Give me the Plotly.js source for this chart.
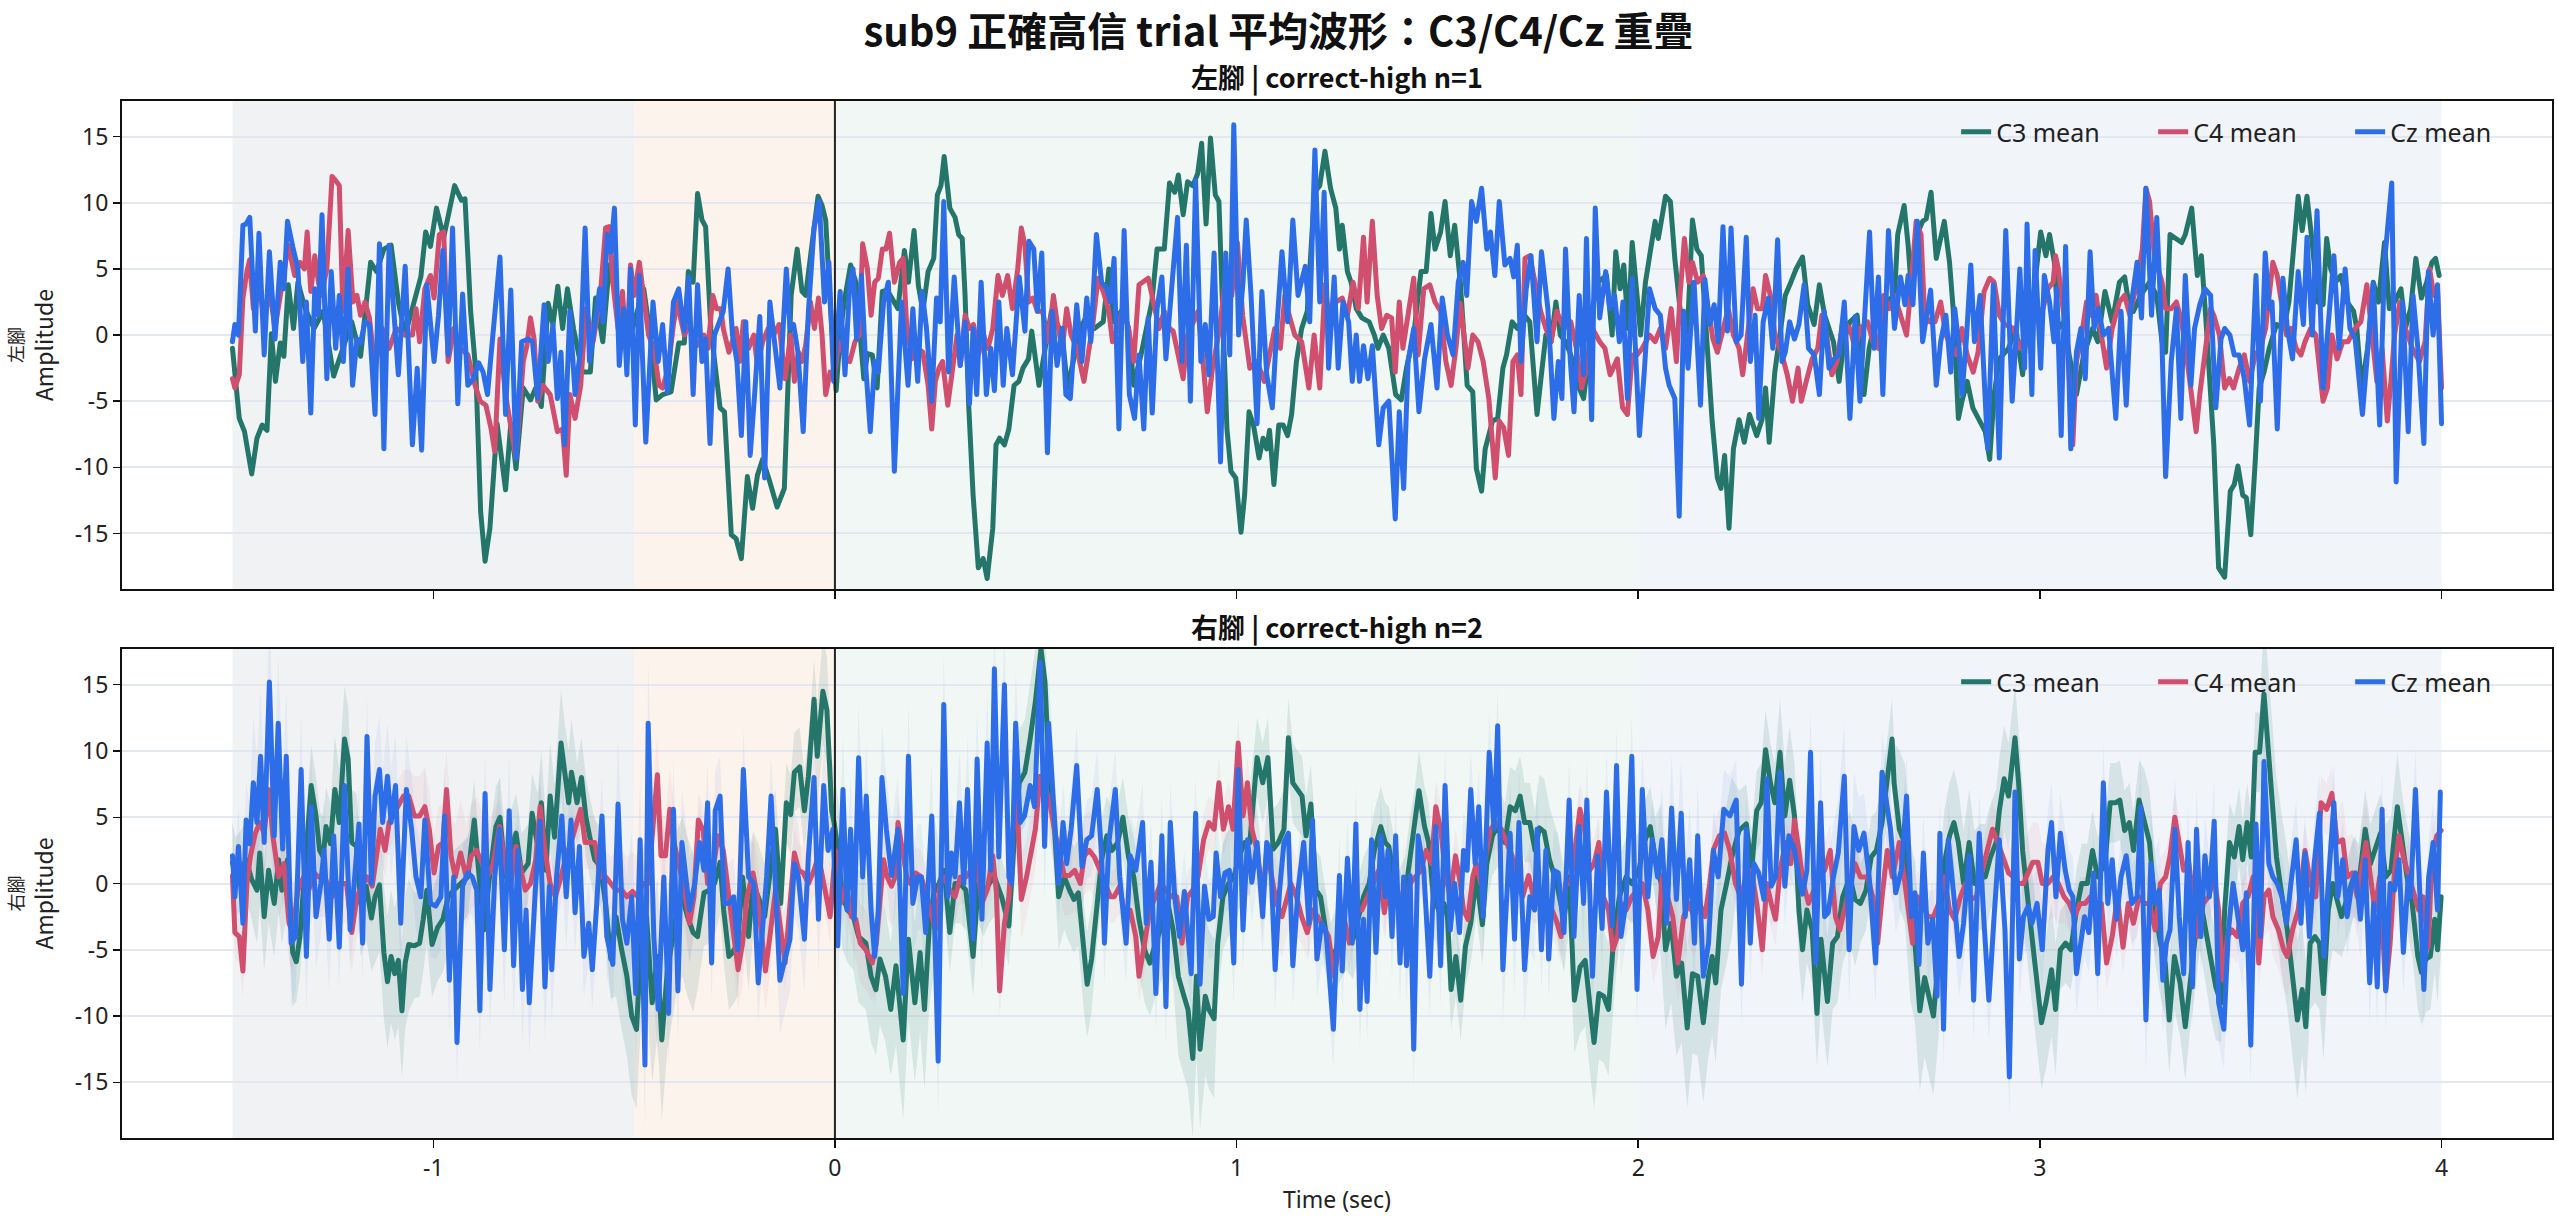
<!DOCTYPE html>
<html>
<head>
<meta charset="utf-8">
<script src="https://cdn.plot.ly/plotly-3.0.1.min.js"></script>
<style>
  html, body { margin: 0; padding: 0; background: #fff; overflow: hidden; }
  #chart { width: 2557px; height: 1221px; }
  .scatterlayer .js-line { stroke-linejoin: round; stroke-linecap: round; }
</style>
</head>
<body>
<div id="chart"></div>
<script>
// [time (s), amplitude] at the turning points of each mean waveform
var topC3 = [[-1.5,-1.0],[-1.483,-6.3],[-1.47,-7.3],[-1.452,-10.5],[-1.439,-7.8],[-1.426,-6.8],[-1.414,-7.2],[-1.403,0.1],[-1.393,-3.5],[-1.381,-0.6],[-1.372,-1.6],[-1.361,3.8],[-1.348,0.5],[-1.337,4.0],[-1.319,2.0],[-1.297,0.5],[-1.274,1.8],[-1.248,-3.1],[-1.225,-1.0],[-1.203,1.0],[-1.181,-1.6],[-1.156,5.5],[-1.141,4.8],[-1.123,6.5],[-1.105,6.8],[-1.087,2.5],[-1.07,0.0],[-1.052,2.0],[-1.031,4.4],[-1.019,7.8],[-1.007,6.7],[-0.992,9.6],[-0.974,7.4],[-0.947,11.3],[-0.93,10.2],[-0.921,10.3],[-0.907,1.8],[-0.894,-2.8],[-0.882,-13.4],[-0.871,-17.1],[-0.859,-14.6],[-0.841,-6.7],[-0.82,-11.7],[-0.807,-6.7],[-0.794,-10.1],[-0.776,-4.0],[-0.758,-4.9],[-0.745,-4.0],[-0.731,-5.4],[-0.714,2.4],[-0.702,0.8],[-0.69,3.7],[-0.678,0.5],[-0.666,3.5],[-0.651,0.5],[-0.629,-2.8],[-0.609,-2.8],[-0.596,2.8],[-0.578,-0.5],[-0.562,5.3],[-0.549,3.5],[-0.531,1.8],[-0.504,0.5],[-0.476,3.5],[-0.46,0.0],[-0.445,-4.9],[-0.429,-4.5],[-0.408,-4.3],[-0.389,-0.6],[-0.375,-0.6],[-0.365,4.8],[-0.353,4.0],[-0.342,10.7],[-0.331,8.7],[-0.322,8.2],[-0.309,0.5],[-0.286,-5.5],[-0.275,-5.8],[-0.258,-15.1],[-0.246,-15.4],[-0.233,-16.9],[-0.218,-10.7],[-0.205,-13.1],[-0.193,-10.6],[-0.18,-9.4],[-0.165,-10.8],[-0.144,-13.0],
[-0.126,-11.6],[-0.117,-4.5],[-0.109,3.0],[-0.094,6.5],[-0.082,3.3],[-0.073,3.0],[-0.059,6.3],[-0.042,10.5],[-0.032,9.8],[-0.023,8.7],[-0.012,2.5],[0.003,-4.2],[0.013,0.0],[0.023,2.5],[0.039,5.3],[0.052,4.0],[0.072,-3.3],[0.081,-1.4],[0.093,-1.5],[0.105,-4.0],[0.118,3.3],[0.13,3.4],[0.157,2.0],[0.173,6.4],[0.183,4.0],[0.197,7.9],[0.208,3.7],[0.219,1.8],[0.232,4.8],[0.246,5.8],[0.255,10.6],[0.264,11.3],[0.272,13.5],[0.286,9.6],[0.299,8.9],[0.308,7.6],[0.317,7.3],[0.324,3.0],[0.333,-5.3],[0.344,-12.1],[0.357,-17.6],[0.369,-16.9],[0.379,-18.4],[0.393,-14.6],[0.401,-8.3],[0.41,-7.8],[0.422,-8.3],[0.433,-7.1],[0.446,-3.8],[0.458,-3.5],[0.468,-2.5],[0.482,-1.8],[0.49,0.3],[0.499,-1.5],[0.508,-3.8],[0.539,1.8],[0.566,0.0],[0.579,-4.0],[0.611,0.5],[0.628,1.5],[0.646,0.5],[0.668,1.0],[0.682,5.0],[0.695,1.0],[0.717,2.0],[0.731,0.5],[0.744,-3.8],[0.762,-1.5],[0.789,2.5],[0.802,6.5],[0.82,6.5],[0.833,11.5],[0.846,10.8],[0.855,12.1],[0.867,9.1],[0.878,11.6],[0.891,11.3],[0.903,12.2],[0.913,14.5],[0.924,8.4],[0.935,14.9],[0.947,10.6],[0.956,10.1],[0.967,0.5],[0.976,-7.1],[0.986,-10.3],[0.998,-10.8],[1.011,-14.9],[1.02,-12.1],[1.031,-5.8],[1.042,-6.8],[1.056,-9.3],[1.066,-7.8],[1.075,-8.6],[1.082,-7.2],[1.093,-11.3],[1.105,-6.8],[1.116,-6.8],[1.127,-7.6],[1.137,-6.0],[1.149,-2.0],[1.162,0.5],[1.176,1.8],[1.194,10.8],[1.207,11.3],[1.22,13.9],[1.234,11.1],[1.247,9.6],[1.256,6.5],
[1.263,8.3],[1.276,4.8],[1.285,4.0],[1.298,2.0],[1.312,1.3],[1.33,1.0],[1.343,0.0],[1.352,-1.0],[1.365,0.0],[1.379,-1.0],[1.396,-4.5],[1.41,-4.9],[1.423,-2.5],[1.441,0.0],[1.459,4.8],[1.472,4.8],[1.484,9.2],[1.494,6.5],[1.508,7.8],[1.519,10.1],[1.532,6.0],[1.543,8.3],[1.557,4.0],[1.574,-3.8],[1.588,-4.3],[1.597,-10.1],[1.61,-11.8],[1.619,-8.6],[1.637,-6.5],[1.65,-6.3],[1.663,-2.5],[1.672,-1.5],[1.686,1.0],[1.699,0.5],[1.717,1.5],[1.73,1.0],[1.739,-2.5],[1.748,-6.0],[1.757,-3.5],[1.77,0.0],[1.783,-0.5],[1.795,2.5],[1.806,0.0],[1.819,-0.5],[1.832,-1.5],[1.85,-3.8],[1.864,-4.8],[1.873,-2.5],[1.886,2.0],[1.899,4.0],[1.921,4.5],[1.935,0.0],[1.944,6.3],[1.955,3.5],[1.964,5.3],[1.975,0.5],[1.985,7.0],[1.997,2.5],[2.006,0.0],[2.018,4.0],[2.028,5.8],[2.042,8.6],[2.05,7.3],[2.068,10.5],[2.08,10.1],[2.091,5.8],[2.104,2.0],[2.122,0.0],[2.135,8.7],[2.146,6.5],[2.157,6.0],[2.171,-1.0],[2.184,-6.5],[2.197,-10.8],[2.206,-11.6],[2.215,-9.1],[2.226,-14.6],[2.237,-8.6],[2.251,-6.4],[2.264,-8.1],[2.277,-6.0],[2.295,-7.6],[2.308,-6.4],[2.317,-4.0],[2.326,-8.1],[2.34,-2.8],[2.353,0.0],[2.366,3.0],[2.38,4.0],[2.393,5.0],[2.409,5.9],[2.422,2.3],[2.438,0.8],[2.451,3.8],[2.464,1.5],[2.486,-0.5],[2.5,-3.5],[2.513,-0.3],[2.527,1.0],[2.545,1.5],[2.562,-4.5],[2.575,-1.0],[2.593,1.5],[2.616,2.5],[2.638,3.0],
[2.646,7.6],[2.662,9.8],[2.672,6.8],[2.681,3.0],[2.69,7.3],[2.708,8.6],[2.717,8.8],[2.729,10.8],[2.742,5.8],[2.762,8.6],[2.775,5.5],[2.784,2.0],[2.797,-6.3],[2.806,-5.0],[2.819,-3.5],[2.833,-5.5],[2.851,-6.5],[2.864,-7.3],[2.875,-9.4],[2.886,-4.5],[2.899,-1.8],[2.922,-1.0],[2.94,0.5],[2.957,-3.0],[2.966,0.0],[2.984,3.0],[3.002,7.8],[3.015,6.0],[3.024,7.6],[3.036,5.5],[3.046,0.5],[3.06,1.0],[3.073,-1.5],[3.091,-4.5],[3.109,-1.5],[3.131,0.5],[3.144,-0.5],[3.162,3.3],[3.18,1.0],[3.198,4.0],[3.211,4.4],[3.223,2.0],[3.233,1.8],[3.251,3.0],[3.273,4.0],[3.291,3.0],[3.304,-0.5],[3.313,-1.3],[3.324,7.6],[3.34,7.3],[3.353,7.0],[3.362,7.6],[3.378,9.6],[3.392,4.5],[3.402,6.0],[3.413,1.3],[3.425,-4.5],[3.433,-8.3],[3.445,-17.6],[3.46,-18.3],[3.474,-11.8],[3.484,-11.3],[3.493,-9.9],[3.505,-12.1],[3.514,-12.3],[3.525,-15.1],[3.536,-9.6],[3.546,-4.0],[3.558,-2.8],[3.571,-1.0],[3.589,0.8],[3.607,0.5],[3.62,2.5],[3.632,7.0],[3.643,10.5],[3.653,7.9],[3.665,10.5],[3.678,7.0],[3.692,2.5],[3.705,2.3],[3.714,7.3],[3.724,5.0],[3.736,4.0],[3.749,4.5],[3.765,2.5],[3.781,1.8],[3.789,0.5],[3.801,-4.0],[3.816,-1.0],[3.83,4.0],[3.843,2.5],[3.858,7.0],[3.87,2.0],[3.883,2.5],[3.899,3.5],[3.91,0.5],[3.923,2.0],[3.936,5.8],[3.95,2.8],[3.963,4.0],[3.976,5.5],[3.985,5.8],[3.994,4.5]];

var topC4 = [[-1.5,-3.3],[-1.494,-4.0],[-1.483,-3.0],[-1.474,2.8],[-1.464,4.8],[-1.457,5.7],[-1.448,2.0],[-1.434,4.0],[-1.421,1.0],[-1.408,3.5],[-1.394,0.5],[-1.381,3.0],[-1.361,6.8],[-1.345,4.5],[-1.332,5.5],[-1.321,5.0],[-1.314,7.8],[-1.305,3.3],[-1.295,6.0],[-1.286,4.0],[-1.279,3.0],[-1.265,5.0],[-1.252,12.0],[-1.241,11.6],[-1.234,11.3],[-1.225,1.8],[-1.212,7.9],[-1.2,2.5],[-1.19,3.0],[-1.181,1.5],[-1.17,2.5],[-1.159,1.3],[-1.145,-2.5],[-1.127,0.5],[-1.11,-1.0],[-1.092,0.5],[-1.07,0.0],[-1.052,0.0],[-1.043,2.0],[-1.034,-0.5],[-1.021,3.5],[-1.007,4.5],[-0.998,2.8],[-0.985,7.6],[-0.974,7.8],[-0.963,-2.0],[-0.949,0.5],[-0.932,-1.0],[-0.914,-1.5],[-0.896,-3.8],[-0.883,-5.0],[-0.869,-5.3],[-0.856,-7.1],[-0.847,-8.8],[-0.834,-0.3],[-0.82,-4.5],[-0.807,-7.1],[-0.794,-9.3],[-0.776,-2.0],[-0.767,-0.8],[-0.758,1.3],[-0.749,-0.3],[-0.74,-5.0],[-0.727,-3.8],[-0.709,-4.5],[-0.691,-7.3],[-0.678,-7.1],[-0.669,-10.6],[-0.66,-4.5],[-0.647,-6.3],[-0.633,-3.8],[-0.62,2.0],[-0.602,-0.5],[-0.584,3.0],[-0.571,8.1],[-0.562,8.2],[-0.553,4.0],[-0.54,0.5],[-0.529,3.3],[-0.518,-2.0],[-0.509,5.3],[-0.5,3.0],[-0.487,5.5],[-0.478,3.5],[-0.464,0.0],[-0.451,-1.0],[-0.438,-3.8],[-0.429,-4.0],[-0.415,-2.5],[-0.402,0.8],[-0.393,2.5],[-0.375,0.0],[-0.362,0.8],[-0.344,-0.8],[-0.326,0.0],[-0.316,-1.0],[-0.304,3.0],[-0.295,2.0],[-0.284,2.0],[-0.278,0.5],[-0.264,-1.3],[-0.246,0.5],[-0.237,-2.0],[-0.228,1.0],[-0.215,-1.0],[-0.202,0.0],[-0.193,-2.3],[-0.18,-0.5],[-0.166,0.5],[-0.153,0.0],[-0.139,0.8],
[-0.124,-3.3],[-0.11,0.0],[-0.101,-3.5],[-0.091,-1.3],[-0.082,-2.0],[-0.073,-0.8],[-0.061,2.5],[-0.051,0.5],[-0.041,2.8],[-0.032,0.0],[-0.023,-4.5],[-0.012,-2.8],[-0.003,-3.3],[0.01,-0.5],[0.023,-1.5],[0.037,-2.0],[0.05,-0.5],[0.061,0.0],[0.069,6.9],[0.081,5.0],[0.09,1.5],[0.099,4.0],[0.108,4.3],[0.118,6.5],[0.127,6.5],[0.136,7.7],[0.148,4.0],[0.161,5.5],[0.17,5.8],[0.179,0.5],[0.192,-1.8],[0.206,-1.0],[0.219,-1.3],[0.232,-3.8],[0.241,-7.1],[0.25,-3.5],[0.259,-2.5],[0.268,-2.0],[0.281,-5.3],[0.292,-2.5],[0.304,0.0],[0.312,-2.3],[0.324,1.5],[0.335,0.5],[0.345,0.8],[0.357,-1.5],[0.37,0.0],[0.381,-1.0],[0.393,0.5],[0.406,4.5],[0.417,3.0],[0.43,4.5],[0.442,2.0],[0.455,5.0],[0.464,8.1],[0.473,6.8],[0.482,2.5],[0.493,2.8],[0.504,1.8],[0.517,1.8],[0.531,-0.5],[0.544,3.0],[0.553,1.0],[0.566,-1.0],[0.577,2.0],[0.588,0.0],[0.602,-1.0],[0.62,-3.5],[0.63,-1.5],[0.642,0.8],[0.655,4.3],[0.668,3.3],[0.682,1.8],[0.691,-0.5],[0.704,0.5],[0.717,2.0],[0.731,0.5],[0.744,-2.0],[0.757,3.8],[0.766,4.0],[0.78,4.3],[0.793,2.5],[0.807,0.5],[0.82,1.8],[0.833,0.5],[0.842,0.3],[0.856,-1.5],[0.867,-3.3],[0.878,0.0],[0.891,0.8],[0.904,1.8],[0.915,-1.5],[0.927,-5.8],[0.94,-2.5],[0.958,0.5],[0.971,4.0],[0.988,3.0],[1.002,7.0],[1.015,1.5],[1.033,-2.5],[1.051,-2.0],[1.069,-3.5],[1.082,-1.5],[1.095,0.5],[1.109,-1.0],[1.12,3.0],[1.131,1.5],[1.145,0.0],[1.162,-0.5],[1.18,-4.0],[1.193,0.0],[1.207,-4.0],[1.22,3.8],[1.234,0.5],[1.247,2.5],
[1.263,2.8],[1.276,1.5],[1.29,4.0],[1.303,2.0],[1.316,7.4],[1.325,2.5],[1.338,8.6],[1.35,3.0],[1.361,0.5],[1.374,1.5],[1.386,1.3],[1.395,-2.8],[1.405,2.5],[1.414,-1.0],[1.427,1.8],[1.441,4.3],[1.452,-1.5],[1.466,3.5],[1.481,3.8],[1.494,2.5],[1.508,1.8],[1.521,-2.0],[1.534,-3.8],[1.546,-1.0],[1.557,2.4],[1.565,0.5],[1.576,-2.5],[1.588,0.0],[1.601,-0.5],[1.614,-2.0],[1.628,-4.8],[1.644,-10.8],[1.654,-6.5],[1.665,-7.0],[1.677,-9.1],[1.688,-2.0],[1.699,-1.5],[1.708,-4.5],[1.718,5.8],[1.73,6.0],[1.743,4.0],[1.757,1.8],[1.77,0.5],[1.783,-0.5],[1.797,1.8],[1.815,0.5],[1.832,1.0],[1.846,-1.0],[1.859,-4.0],[1.872,-2.5],[1.886,0.5],[1.904,-0.5],[1.917,-1.0],[1.93,-3.0],[1.948,-1.8],[1.961,-5.5],[1.973,-6.0],[1.985,-1.5],[1.997,-1.5],[2.01,-1.0],[2.028,0.0],[2.042,-0.5],[2.055,0.5],[2.068,-1.0],[2.082,2.0],[2.095,-2.0],[2.104,3.0],[2.115,7.3],[2.126,4.0],[2.135,5.5],[2.148,4.0],[2.162,4.5],[2.175,1.8],[2.186,-0.3],[2.197,-1.3],[2.211,0.5],[2.224,2.0],[2.237,0.0],[2.251,-1.0],[2.26,-3.0],[2.273,0.0],[2.286,3.5],[2.297,2.0],[2.309,2.0],[2.317,4.5],[2.329,3.0],[2.34,0.0],[2.358,-1.5],[2.371,-3.0],[2.384,-5.0],[2.398,-2.5],[2.406,-5.0],[2.42,-3.3],[2.433,-1.8],[2.447,-1.0],[2.457,1.5],[2.469,0.0],[2.482,-3.0],[2.495,-2.0],[2.509,1.0],[2.527,0.5],[2.54,-1.0],[2.553,0.5],[2.571,1.0],[2.584,-0.5],[2.598,-1.0],[2.611,3.0],[2.625,2.0],[2.638,3.0],
[2.668,0.0],[2.677,3.0],[2.692,8.6],[2.704,7.6],[2.713,1.5],[2.726,1.0],[2.739,1.0],[2.753,2.5],[2.766,0.0],[2.779,-0.8],[2.793,-1.5],[2.806,0.5],[2.819,-1.5],[2.834,-2.8],[2.846,-1.3],[2.861,3.3],[2.875,4.3],[2.886,4.0],[2.899,1.5],[2.913,0.8],[2.935,0.5],[2.948,-1.0],[2.964,0.0],[2.98,2.0],[2.993,2.0],[3.006,1.8],[3.02,3.5],[3.033,4.0],[3.039,6.0],[3.046,5.0],[3.055,2.5],[3.069,-1.0],[3.082,-8.3],[3.091,-2.0],[3.104,0.0],[3.116,2.5],[3.126,1.5],[3.14,3.0],[3.153,0.0],[3.166,-2.5],[3.18,0.5],[3.198,2.5],[3.211,3.0],[3.224,1.5],[3.242,4.0],[3.255,6.5],[3.264,11.1],[3.273,10.1],[3.285,6.0],[3.296,5.0],[3.304,4.0],[3.313,2.0],[3.327,2.0],[3.34,2.5],[3.353,1.0],[3.367,-2.0],[3.38,-5.0],[3.389,-7.3],[3.398,-4.5],[3.411,-1.3],[3.425,2.0],[3.433,1.5],[3.447,0.0],[3.46,-4.0],[3.472,-3.3],[3.482,-4.0],[3.496,-2.5],[3.509,-1.5],[3.522,-3.5],[3.536,-1.5],[3.549,-1.0],[3.562,0.5],[3.571,3.0],[3.58,5.5],[3.591,4.5],[3.603,2.0],[3.614,0.0],[3.625,0.5],[3.638,-1.0],[3.65,-1.5],[3.66,-0.5],[3.674,0.5],[3.687,0.0],[3.705,-5.0],[3.716,-4.0],[3.727,0.0],[3.74,-1.8],[3.754,-0.5],[3.767,-0.5],[3.785,0.5],[3.799,1.0],[3.814,3.8],[3.825,0.5],[3.839,-3.5],[3.852,-1.0],[3.865,-6.5],[3.874,-3.5],[3.883,0.0],[3.896,2.5],[3.91,0.5],[3.927,-1.0],[3.945,-2.0],[3.959,-0.5],[3.97,5.0],[3.981,3.0],[3.99,3.5],[4.0,-4.0]];

var topCz = [[-1.5,-0.5],[-1.494,0.8],[-1.485,0.0],[-1.474,8.3],[-1.466,8.4],[-1.457,8.9],[-1.443,0.3],[-1.434,7.7],[-1.421,-1.5],[-1.408,6.3],[-1.394,-0.3],[-1.381,5.5],[-1.372,3.5],[-1.363,8.6],[-1.35,6.7],[-1.337,5.0],[-1.325,-2.0],[-1.316,2.5],[-1.305,-5.9],[-1.295,3.5],[-1.286,1.5],[-1.277,9.1],[-1.265,-3.3],[-1.254,4.8],[-1.243,-1.0],[-1.234,3.0],[-1.224,-2.0],[-1.212,5.0],[-1.201,-3.8],[-1.19,-0.3],[-1.181,-0.6],[-1.17,1.0],[-1.159,0.8],[-1.145,-6.0],[-1.134,6.9],[-1.123,-8.6],[-1.11,6.8],[-1.099,2.0],[-1.087,-3.0],[-1.07,5.2],[-1.052,-8.3],[-1.04,-2.5],[-1.029,-8.7],[-1.016,3.8],[-0.998,-2.0],[-0.987,1.5],[-0.976,6.4],[-0.963,-1.5],[-0.952,8.1],[-0.939,-5.2],[-0.927,3.1],[-0.914,-3.8],[-0.9,-3.3],[-0.887,-2.1],[-0.876,-2.8],[-0.865,-4.5],[-0.85,0.8],[-0.834,5.9],[-0.82,-6.0],[-0.807,3.4],[-0.794,-9.3],[-0.78,-0.5],[-0.764,-0.3],[-0.753,-0.5],[-0.74,-4.8],[-0.724,2.3],[-0.714,-2.0],[-0.702,0.8],[-0.691,-4.8],[-0.682,-1.3],[-0.673,-8.3],[-0.66,1.8],[-0.647,-4.5],[-0.633,-1.0],[-0.622,8.1],[-0.611,-2.0],[-0.598,0.8],[-0.586,3.5],[-0.577,1.0],[-0.567,7.6],[-0.558,6.3],[-0.549,9.6],[-0.537,-2.3],[-0.526,2.0],[-0.518,-3.0],[-0.509,5.0],[-0.497,-6.8],[-0.487,4.5],[-0.471,-8.1],[-0.453,2.5],[-0.44,-2.0],[-0.429,0.8],[-0.417,-4.3],[-0.402,2.5],[-0.389,3.5],[-0.375,0.3],[-0.364,4.4],[-0.353,-4.5],[-0.342,3.8],[-0.331,-2.0],[-0.322,-0.3],[-0.311,-8.2],[-0.3,0.0],[-0.286,1.0],[-0.278,1.8],[-0.266,5.0],[-0.255,0.0],[-0.244,-2.0],[-0.233,-7.6],[-0.222,1.0],[-0.211,-9.1],[-0.2,-4.5],[-0.187,1.4],[-0.175,-10.8],[-0.162,2.5],
[-0.137,-4.0],[-0.121,5.0],[-0.112,0.5],[-0.103,0.8],[-0.092,-1.3],[-0.079,-7.3],[-0.066,1.8],[-0.052,8.1],[-0.039,10.1],[-0.026,2.5],[-0.015,5.5],[-0.003,-3.5],[0.013,3.3],[0.025,-3.0],[0.037,4.0],[0.045,5.0],[0.054,-0.3],[0.066,4.5],[0.077,-2.5],[0.088,-7.3],[0.099,-2.0],[0.108,-2.8],[0.121,2.5],[0.133,4.0],[0.148,-10.3],[0.166,2.5],[0.182,-3.8],[0.194,2.0],[0.206,-3.5],[0.217,3.3],[0.228,0.5],[0.241,-5.0],[0.253,2.8],[0.262,1.0],[0.271,10.1],[0.283,-2.8],[0.297,4.4],[0.312,-2.3],[0.324,1.0],[0.335,-5.2],[0.344,0.5],[0.353,-4.5],[0.364,4.0],[0.377,-4.5],[0.388,-1.0],[0.397,-4.2],[0.408,2.5],[0.419,-3.8],[0.428,0.5],[0.442,-3.0],[0.459,4.4],[0.473,0.3],[0.483,7.1],[0.495,6.5],[0.504,1.8],[0.515,6.2],[0.529,-8.9],[0.541,1.8],[0.553,-2.3],[0.566,0.5],[0.575,-4.5],[0.586,-4.8],[0.602,2.3],[0.615,-2.0],[0.627,2.8],[0.637,-0.5],[0.651,7.6],[0.664,4.0],[0.677,3.5],[0.686,2.5],[0.695,5.8],[0.707,-7.1],[0.72,7.9],[0.733,-4.5],[0.746,-6.3],[0.757,-1.5],[0.769,-7.1],[0.78,1.3],[0.79,-5.9],[0.802,2.0],[0.814,4.4],[0.824,-1.8],[0.835,2.3],[0.853,8.9],[0.864,-2.0],[0.875,6.8],[0.885,-5.0],[0.898,11.7],[0.911,-2.0],[0.922,0.8],[0.931,-3.0],[0.944,6.2],[0.96,-9.6],[0.973,6.2],[0.983,-1.5],[0.993,15.9],[1.005,0.0],[1.016,4.0],[1.024,8.7],[1.036,3.0],[1.051,-6.7],[1.063,3.3],[1.075,-3.0],[1.089,-5.5],[1.1,0.5],[1.113,6.3],[1.127,1.0],[1.14,8.7],[1.153,3.0],[1.171,5.2],[1.182,1.0],[1.195,14.0],[1.207,2.5],[1.218,10.8],[1.229,-2.5],[1.243,4.4],[1.253,-2.5],
[1.265,2.5],[1.279,1.0],[1.288,-3.5],[1.298,0.0],[1.306,-3.5],[1.316,-0.8],[1.327,-3.3],[1.338,-0.8],[1.354,-8.3],[1.365,-5.5],[1.379,-5.0],[1.395,-13.9],[1.405,-5.8],[1.416,-11.6],[1.427,-2.0],[1.441,0.5],[1.454,-5.8],[1.468,-1.8],[1.484,0.8],[1.499,-4.0],[1.512,2.8],[1.525,0.0],[1.539,-1.5],[1.552,4.0],[1.564,5.5],[1.573,3.0],[1.585,10.1],[1.597,8.6],[1.61,11.1],[1.623,6.5],[1.632,7.8],[1.643,4.5],[1.654,10.1],[1.668,5.3],[1.681,5.8],[1.69,4.4],[1.699,6.8],[1.708,-2.0],[1.721,3.5],[1.733,6.0],[1.748,-0.5],[1.759,6.3],[1.775,2.0],[1.79,-6.3],[1.801,-2.0],[1.81,-4.8],[1.819,6.5],[1.831,-2.0],[1.84,-5.8],[1.853,3.0],[1.864,-3.0],[1.871,7.3],[1.884,-6.4],[1.893,9.6],[1.904,1.3],[1.919,4.8],[1.929,2.0],[1.941,3.0],[1.953,-0.5],[1.962,2.5],[1.973,-4.8],[1.985,4.3],[2.003,-7.6],[2.015,-2.8],[2.028,3.5],[2.042,2.0],[2.055,1.5],[2.068,-2.5],[2.077,-3.8],[2.091,-4.8],[2.102,-13.7],[2.113,1.8],[2.124,-2.5],[2.139,4.0],[2.155,-5.3],[2.166,4.2],[2.178,0.8],[2.189,2.3],[2.199,-0.5],[2.211,8.2],[2.222,0.3],[2.231,8.1],[2.244,-0.5],[2.256,0.0],[2.269,7.4],[2.279,-2.0],[2.291,1.5],[2.3,-6.3],[2.311,1.0],[2.324,2.8],[2.335,-1.0],[2.347,7.2],[2.358,-2.0],[2.366,-1.3],[2.377,1.0],[2.389,-0.3],[2.4,0.8],[2.413,3.8],[2.424,-1.0],[2.438,-1.5],[2.451,-4.5],[2.463,1.8],[2.475,-2.5],[2.488,-1.8],[2.5,-1.5],[2.513,2.5],[2.527,-6.3],[2.54,1.4],[2.552,-5.0],[2.562,0.5],[2.576,7.8],[2.587,-1.0],[2.598,4.4],[2.609,-4.5],[2.623,7.9],[2.638,0.5],
[2.653,4.4],[2.664,2.3],[2.672,4.5],[2.684,2.3],[2.695,8.6],[2.708,-0.5],[2.728,3.4],[2.742,-3.8],[2.753,-0.5],[2.766,1.5],[2.778,-2.8],[2.788,2.0],[2.799,-1.0],[2.806,-4.5],[2.817,-0.3],[2.828,5.3],[2.837,-0.5],[2.851,3.0],[2.859,-1.5],[2.87,-8.6],[2.884,3.8],[2.899,-9.3],[2.915,7.9],[2.931,-5.0],[2.944,1.5],[2.95,5.0],[2.962,-2.5],[2.968,8.4],[2.98,-4.5],[2.988,6.4],[3.002,-2.5],[3.011,4.5],[3.024,2.5],[3.035,-0.5],[3.042,3.5],[3.053,-7.6],[3.064,6.7],[3.077,-8.6],[3.091,-1.3],[3.102,0.5],[3.113,-3.3],[3.125,6.3],[3.135,0.5],[3.146,2.0],[3.158,0.0],[3.171,0.5],[3.189,-6.3],[3.202,1.8],[3.215,-5.3],[3.226,2.0],[3.242,5.5],[3.253,1.3],[3.264,11.1],[3.278,1.5],[3.291,8.9],[3.303,0.5],[3.313,-10.7],[3.327,-2.0],[3.34,2.0],[3.351,-6.3],[3.362,4.5],[3.376,-3.8],[3.385,0.5],[3.398,2.3],[3.411,3.5],[3.425,3.0],[3.438,-5.5],[3.451,-0.3],[3.46,0.5],[3.473,0.0],[3.484,-1.5],[3.496,-1.5],[3.509,-3.3],[3.522,-6.8],[3.538,4.5],[3.549,-5.0],[3.561,6.2],[3.571,2.0],[3.578,2.5],[3.591,-7.1],[3.605,4.3],[3.616,0.5],[3.629,-1.8],[3.643,4.8],[3.656,0.8],[3.665,7.4],[3.678,0.0],[3.69,9.4],[3.705,-4.0],[3.718,0.5],[3.732,6.0],[3.745,-1.0],[3.76,5.0],[3.772,0.5],[3.785,-0.3],[3.803,-6.0],[3.816,-1.0],[3.83,3.9],[3.846,-6.8],[3.858,5.5],[3.876,11.5],[3.887,-11.1],[3.903,2.5],[3.917,-7.3],[3.929,3.0],[3.941,-1.0],[3.956,-8.2],[3.967,4.8],[3.979,0.0],[3.99,3.8],[4.0,-6.7]];

var botC3 = [[-1.5,1.6],[-1.492,0.5],[-1.479,1.0],[-1.466,1.8],[-1.452,0.3],[-1.439,-0.5],[-1.432,2.3],[-1.421,-2.5],[-1.41,1.0],[-1.396,-1.5],[-1.385,1.8],[-1.377,-0.5],[-1.363,1.8],[-1.35,-5.2],[-1.341,-5.9],[-1.332,-4.0],[-1.321,0.5],[-1.304,7.4],[-1.292,5.1],[-1.283,2.5],[-1.274,2.0],[-1.267,4.3],[-1.256,3.0],[-1.245,7.1],[-1.234,4.6],[-1.221,10.9],[-1.212,9.4],[-1.203,3.1],[-1.191,2.8],[-1.181,-1.5],[-1.167,-0.2],[-1.154,-2.6],[-1.145,-1.0],[-1.134,-0.1],[-1.123,-5.2],[-1.114,-7.4],[-1.105,-5.5],[-1.096,-6.8],[-1.087,-5.8],[-1.078,-9.6],[-1.07,-6.0],[-1.061,-4.6],[-1.047,-4.7],[-1.034,-4.5],[-1.025,-2.7],[-1.016,-0.5],[-1.003,-4.6],[-0.989,-3.3],[-0.976,-2.7],[-0.963,-1.0],[-0.949,-0.5],[-0.932,0.0],[-0.914,0.5],[-0.898,4.8],[-0.887,0.5],[-0.874,-3.5],[-0.86,0.5],[-0.844,4.3],[-0.834,5.0],[-0.82,0.5],[-0.807,2.5],[-0.794,3.8],[-0.78,0.8],[-0.764,1.5],[-0.754,5.3],[-0.74,2.8],[-0.731,6.1],[-0.72,1.0],[-0.709,6.6],[-0.698,3.5],[-0.682,10.6],[-0.673,8.1],[-0.663,6.1],[-0.656,8.4],[-0.642,6.1],[-0.631,8.0],[-0.62,5.0],[-0.611,3.6],[-0.598,1.8],[-0.584,1.3],[-0.571,-1.5],[-0.558,-5.7],[-0.545,-2.5],[-0.531,-5.0],[-0.518,-7.0],[-0.506,-10.0],[-0.494,-11.0],[-0.482,-4.0],[-0.469,-2.5],[-0.455,-9.0],[-0.442,-5.5],[-0.431,-11.8],[-0.417,-6.5],[-0.406,-4.5],[-0.393,-2.0],[-0.38,-1.0],[-0.367,-2.5],[-0.353,-3.7],[-0.342,-4.0],[-0.326,-0.7],[-0.313,-0.5],[-0.3,0.0],[-0.286,1.6],[-0.277,-2.0],[-0.264,-5.5],[-0.255,-5.2],[-0.242,-4.5],[-0.23,0.5],[-0.215,-4.0],[-0.204,0.0],[-0.191,-1.0],[-0.175,-2.5],[-0.162,1.0],[-0.148,4.1],[-0.135,-1.5],
[-0.121,6.1],[-0.11,5.2],[-0.101,8.4],[-0.088,8.8],[-0.076,5.5],[-0.066,8.1],[-0.052,13.9],[-0.044,9.6],[-0.03,14.5],[-0.02,13.1],[-0.008,5.5],[-0.002,4.6],[0.005,3.1],[0.019,-1.0],[0.032,-2.0],[0.046,-2.5],[0.059,-4.0],[0.077,-4.5],[0.09,-7.0],[0.102,-8.0],[0.112,-5.7],[0.126,-7.0],[0.139,-9.5],[0.152,-6.2],[0.17,-11.8],[0.183,-4.2],[0.199,-9.0],[0.212,-5.2],[0.223,-9.5],[0.235,-3.2],[0.246,-0.7],[0.259,0.0],[0.272,1.0],[0.286,-3.7],[0.299,0.0],[0.312,0.0],[0.326,-0.5],[0.344,-5.5],[0.357,0.0],[0.37,-1.0],[0.384,0.0],[0.397,0.5],[0.415,-1.0],[0.433,-3.2],[0.446,3.1],[0.459,7.6],[0.473,8.4],[0.486,10.9],[0.499,13.7],[0.513,17.7],[0.523,15.2],[0.532,9.1],[0.544,5.5],[0.557,-1.0],[0.571,0.5],[0.584,-0.5],[0.595,-1.2],[0.606,-0.7],[0.62,-5.7],[0.628,-7.6],[0.639,-5.7],[0.651,-2.0],[0.664,1.8],[0.677,3.6],[0.69,2.5],[0.704,3.1],[0.717,5.0],[0.731,2.0],[0.744,0.5],[0.757,-2.7],[0.771,-5.0],[0.784,-6.0],[0.798,-4.5],[0.814,-3.2],[0.829,-1.5],[0.842,-3.5],[0.855,-7.0],[0.869,-8.5],[0.879,-9.5],[0.891,-13.2],[0.9,-7.0],[0.909,-12.5],[0.922,-8.5],[0.931,-9.5],[0.944,-10.2],[0.953,-4.5],[0.966,-1.0],[0.98,0.0],[0.993,0.5],[1.006,2.0],[1.02,3.1],[1.033,3.1],[1.051,9.5],[1.065,7.6],[1.078,9.5],[1.091,2.6],[1.104,3.1],[1.118,4.1],[1.129,11.0],[1.14,7.6],[1.152,7.0],[1.163,6.6],[1.173,3.6],[1.185,6.0],[1.198,-0.5],[1.209,-1.0],[1.22,-3.2],[1.234,-6.0],[1.247,-5.0],
[1.272,-3.5],[1.29,-4.2],[1.303,-2.7],[1.316,-1.0],[1.33,0.0],[1.343,2.5],[1.359,4.3],[1.37,3.1],[1.379,2.8],[1.392,0.3],[1.405,-2.0],[1.419,-1.0],[1.432,2.1],[1.443,4.1],[1.454,7.0],[1.468,4.3],[1.478,3.1],[1.49,-1.0],[1.503,-2.0],[1.516,-1.5],[1.525,-2.5],[1.534,-8.0],[1.546,-5.5],[1.558,-8.8],[1.57,-4.7],[1.583,-3.0],[1.597,0.5],[1.612,-3.1],[1.623,1.5],[1.637,3.6],[1.65,4.3],[1.668,3.1],[1.681,5.8],[1.694,5.5],[1.706,6.6],[1.717,4.6],[1.73,4.6],[1.743,2.5],[1.754,4.2],[1.766,3.9],[1.779,1.8],[1.797,0.0],[1.815,-2.7],[1.828,0.5],[1.841,-8.8],[1.855,-6.3],[1.868,-5.8],[1.879,-9.0],[1.89,-12.0],[1.902,-8.3],[1.914,-8.5],[1.926,-9.5],[1.939,-4.0],[1.953,-1.0],[1.97,0.5],[1.984,0.0],[2.002,1.0],[2.015,3.1],[2.03,4.3],[2.042,2.0],[2.057,0.0],[2.068,-5.0],[2.082,-3.0],[2.095,-7.0],[2.108,-6.0],[2.122,-10.9],[2.135,-6.8],[2.148,-7.0],[2.162,-10.5],[2.175,-7.0],[2.184,-5.5],[2.193,-7.5],[2.206,-2.0],[2.22,0.0],[2.233,2.0],[2.251,4.0],[2.269,4.5],[2.282,1.0],[2.295,5.5],[2.306,6.1],[2.317,10.1],[2.329,7.6],[2.34,6.1],[2.353,9.9],[2.365,5.1],[2.377,7.8],[2.389,5.1],[2.4,-2.0],[2.409,-5.0],[2.42,-2.0],[2.433,-3.5],[2.445,-9.8],[2.455,-4.2],[2.471,-8.9],[2.484,-4.5],[2.496,-4.0],[2.509,-1.0],[2.527,0.5],[2.54,-1.2],[2.553,-1.5],[2.567,-0.5],[2.58,2.0],[2.593,2.5],[2.607,4.6],[2.62,8.1],[2.632,10.9],
[2.637,7.6],[2.65,4.1],[2.664,3.0],[2.677,-2.7],[2.689,-4.5],[2.701,-9.6],[2.713,-7.1],[2.724,-8.6],[2.735,-10.0],[2.748,-5.5],[2.762,1.5],[2.775,3.6],[2.786,4.6],[2.797,3.1],[2.81,0.0],[2.824,3.1],[2.837,0.0],[2.851,0.5],[2.864,0.5],[2.877,2.0],[2.891,3.1],[2.899,5.5],[2.911,7.9],[2.922,6.6],[2.938,11.0],[2.947,7.6],[2.957,2.5],[2.971,-1.5],[2.984,-5.0],[2.995,-8.0],[3.004,-10.5],[3.015,-9.0],[3.029,-6.5],[3.039,-9.5],[3.051,-5.0],[3.064,-4.5],[3.077,-5.0],[3.091,-2.0],[3.104,0.0],[3.118,0.0],[3.131,2.5],[3.144,0.5],[3.162,1.5],[3.175,6.1],[3.189,6.1],[3.199,6.3],[3.211,4.0],[3.223,4.6],[3.233,2.5],[3.247,6.3],[3.26,4.6],[3.273,3.1],[3.287,-2.0],[3.3,-4.5],[3.312,-6.0],[3.322,-10.3],[3.335,-5.5],[3.349,-7.5],[3.362,-10.8],[3.374,-7.0],[3.385,-4.5],[3.398,-1.0],[3.411,-3.2],[3.425,-6.0],[3.438,-7.8],[3.451,-9.0],[3.46,-2.0],[3.472,3.1],[3.484,2.0],[3.496,4.3],[3.505,1.8],[3.516,4.6],[3.526,2.0],[3.536,9.9],[3.547,9.9],[3.558,14.3],[3.567,10.6],[3.579,5.5],[3.589,2.0],[3.603,-1.0],[3.616,-3.5],[3.629,-7.0],[3.641,-10.3],[3.653,-8.0],[3.662,-10.8],[3.673,-4.5],[3.685,-4.0],[3.696,-4.5],[3.706,-8.3],[3.718,-2.0],[3.729,0.0],[3.751,-2.5],[3.767,-1.0],[3.781,0.5],[3.794,0.0],[3.81,4.1],[3.823,1.5],[3.834,2.5],[3.848,3.8],[3.861,0.5],[3.874,1.0],[3.89,5.8],[3.903,2.5],[3.914,0.5],[3.927,-1.5],[3.941,-5.5],[3.95,-6.7],[3.961,-5.7],[3.972,-5.5],[3.983,-2.7],[3.99,-5.0],[3.999,-1.0]];

var botC4 = [[-1.5,0.6],[-1.494,-3.7],[-1.483,-4.0],[-1.474,-6.6],[-1.464,0.0],[-1.455,2.1],[-1.443,3.8],[-1.432,4.6],[-1.421,3.8],[-1.41,7.1],[-1.399,3.5],[-1.385,0.5],[-1.372,1.5],[-1.359,-3.0],[-1.35,-3.7],[-1.337,-0.5],[-1.323,0.5],[-1.31,-0.5],[-1.296,0.8],[-1.286,0.5],[-1.27,0.5],[-1.252,-1.0],[-1.234,0.0],[-1.216,0.0],[-1.203,-3.7],[-1.19,-1.0],[-1.176,0.0],[-1.165,0.5],[-1.152,-0.2],[-1.141,2.5],[-1.132,4.1],[-1.12,2.5],[-1.11,4.6],[-1.092,5.6],[-1.074,6.6],[-1.061,6.6],[-1.047,5.1],[-1.034,5.1],[-1.021,5.8],[-1.01,4.1],[-0.998,0.8],[-0.987,2.8],[-0.976,3.1],[-0.967,7.1],[-0.956,2.1],[-0.945,0.5],[-0.932,2.3],[-0.918,0.5],[-0.905,2.1],[-0.892,2.5],[-0.878,1.5],[-0.865,0.5],[-0.851,1.5],[-0.835,4.3],[-0.825,2.1],[-0.809,-0.5],[-0.794,2.8],[-0.78,0.8],[-0.771,-0.5],[-0.758,0.0],[-0.745,1.8],[-0.734,5.8],[-0.722,2.5],[-0.709,0.0],[-0.696,-1.0],[-0.682,0.5],[-0.669,2.1],[-0.657,3.1],[-0.647,4.1],[-0.633,5.6],[-0.622,3.1],[-0.611,3.1],[-0.598,3.1],[-0.584,0.5],[-0.571,0.5],[-0.558,0.0],[-0.545,-0.5],[-0.531,-0.5],[-0.518,-1.0],[-0.504,-0.6],[-0.491,-1.0],[-0.478,0.0],[-0.465,0.0],[-0.453,4.3],[-0.442,8.2],[-0.433,2.1],[-0.422,2.1],[-0.411,5.6],[-0.402,3.3],[-0.389,1.5],[-0.375,-0.5],[-0.362,-3.0],[-0.351,-1.0],[-0.34,4.8],[-0.328,4.0],[-0.317,0.0],[-0.304,1.0],[-0.291,3.6],[-0.278,2.5],[-0.264,-1.0],[-0.253,-4.0],[-0.241,-6.5],[-0.23,-4.5],[-0.219,-1.0],[-0.204,0.8],[-0.193,-1.0],[-0.182,-4.0],[-0.173,-6.6],[-0.162,-4.0],[-0.148,-0.5],
[-0.124,-6.0],[-0.101,2.3],[-0.09,1.0],[-0.079,0.8],[-0.066,0.0],[-0.052,1.0],[-0.041,2.1],[-0.032,0.5],[-0.021,-1.0],[-0.012,-2.5],[0.001,2.5],[0.014,-1.5],[0.028,0.0],[0.041,-2.5],[0.052,-2.7],[0.063,-4.5],[0.077,-5.0],[0.093,-6.0],[0.103,-4.5],[0.112,-1.5],[0.121,1.8],[0.13,0.5],[0.141,-0.2],[0.15,0.5],[0.157,4.6],[0.168,2.5],[0.179,0.5],[0.188,0.0],[0.201,0.8],[0.215,0.5],[0.228,-1.0],[0.239,-2.5],[0.25,-3.5],[0.262,0.0],[0.272,0.5],[0.286,-0.5],[0.299,-1.0],[0.312,0.5],[0.326,0.5],[0.339,1.0],[0.353,2.1],[0.366,-1.5],[0.379,-0.5],[0.393,2.1],[0.402,-0.7],[0.41,-8.1],[0.422,-3.0],[0.433,-1.0],[0.443,4.1],[0.453,6.6],[0.464,-1.2],[0.477,0.5],[0.49,2.5],[0.499,4.1],[0.511,8.1],[0.522,7.1],[0.535,6.1],[0.546,4.1],[0.557,2.5],[0.571,0.6],[0.584,0.6],[0.597,1.0],[0.611,0.0],[0.621,2.1],[0.633,2.5],[0.646,2.0],[0.66,1.0],[0.673,0.0],[0.686,-1.0],[0.695,-1.0],[0.709,-0.2],[0.722,-2.5],[0.735,-2.0],[0.749,-4.0],[0.757,-7.0],[0.771,-4.5],[0.784,-2.0],[0.798,-1.0],[0.811,0.0],[0.824,-0.5],[0.838,-1.0],[0.851,-1.0],[0.864,-4.5],[0.878,-1.0],[0.891,-0.5],[0.904,0.5],[0.918,3.3],[0.931,4.6],[0.944,4.1],[0.956,7.6],[0.967,4.1],[0.98,5.8],[0.991,4.1],[1.004,10.6],[1.016,5.1],[1.027,7.6],[1.038,4.1],[1.051,2.5],[1.065,-1.0],[1.075,2.5],[1.087,0.5],[1.1,-1.5],[1.113,-2.5],[1.125,-1.0],[1.135,0.0],[1.149,-1.0],[1.162,-2.5],[1.176,-3.7],[1.189,-2.0],[1.202,-2.5],[1.214,-3.2],[1.229,-4.0],[1.243,-7.0],
[1.267,-2.5],[1.281,-4.5],[1.294,-2.0],[1.312,-2.0],[1.325,-1.0],[1.338,0.0],[1.354,1.0],[1.368,-2.2],[1.379,0.0],[1.392,0.5],[1.405,-1.0],[1.419,-1.5],[1.432,0.0],[1.445,0.5],[1.459,1.0],[1.472,2.5],[1.485,1.5],[1.496,5.8],[1.508,4.1],[1.521,0.5],[1.532,-1.0],[1.545,2.1],[1.557,0.0],[1.565,-2.0],[1.576,-2.7],[1.588,0.5],[1.597,1.5],[1.608,0.0],[1.619,2.1],[1.632,4.1],[1.645,4.6],[1.659,4.1],[1.672,3.1],[1.686,2.1],[1.699,0.0],[1.712,-1.0],[1.727,0.6],[1.739,-1.0],[1.752,-1.0],[1.766,-1.0],[1.779,-1.5],[1.795,-2.7],[1.808,-4.0],[1.819,0.0],[1.832,0.0],[1.846,3.6],[1.855,5.6],[1.866,4.1],[1.879,1.0],[1.89,1.5],[1.902,3.1],[1.913,-1.0],[1.926,-2.0],[1.937,-5.0],[1.948,-4.0],[1.957,-1.5],[1.97,-2.0],[1.984,-1.0],[1.997,-0.5],[2.01,0.0],[2.024,-2.0],[2.037,-5.5],[2.05,-4.0],[2.059,0.5],[2.073,-1.0],[2.086,-2.5],[2.099,-6.0],[2.113,-2.5],[2.126,-1.5],[2.139,-2.5],[2.153,-1.5],[2.166,-2.5],[2.178,0.0],[2.188,2.6],[2.202,3.6],[2.215,3.8],[2.228,2.5],[2.242,0.0],[2.255,-1.0],[2.269,0.5],[2.282,1.0],[2.295,-1.5],[2.309,-5.0],[2.32,0.0],[2.331,-1.5],[2.342,-2.7],[2.353,1.0],[2.367,3.1],[2.38,1.5],[2.389,4.8],[2.4,2.5],[2.411,0.0],[2.424,-1.5],[2.438,-0.5],[2.451,0.5],[2.464,1.0],[2.478,2.5],[2.491,-2.5],[2.502,-3.5],[2.513,-2.0],[2.527,0.0],[2.54,1.5],[2.553,0.5],[2.571,0.5],[2.584,-1.0],[2.596,-4.5],[2.607,-1.0],[2.62,2.5],[2.633,0.5],
[2.65,3.1],[2.664,0.0],[2.672,-2.0],[2.683,-4.5],[2.695,-1.0],[2.708,-1.5],[2.721,-2.5],[2.735,-2.5],[2.748,-1.5],[2.762,0.5],[2.775,-2.0],[2.788,-2.7],[2.802,-1.0],[2.815,0.0],[2.828,-1.2],[2.842,-1.0],[2.855,0.8],[2.868,2.5],[2.882,4.1],[2.895,3.1],[2.908,2.0],[2.922,0.8],[2.935,0.5],[2.948,0.0],[2.959,0.0],[2.971,0.8],[2.982,1.6],[2.995,1.6],[3.006,0.0],[3.02,0.0],[3.033,0.5],[3.046,0.0],[3.06,-1.0],[3.073,-1.5],[3.086,-2.5],[3.1,-1.5],[3.113,-1.5],[3.126,-1.0],[3.14,-2.0],[3.153,-1.5],[3.166,-6.0],[3.18,-4.0],[3.193,-1.0],[3.207,-4.8],[3.22,-1.5],[3.233,-3.0],[3.247,-1.0],[3.26,-1.5],[3.273,-1.5],[3.287,-3.5],[3.3,0.0],[3.313,0.5],[3.324,2.1],[3.336,5.0],[3.347,3.1],[3.358,1.0],[3.371,1.5],[3.383,-1.5],[3.393,-4.0],[3.407,-1.5],[3.42,-1.0],[3.434,0.5],[3.445,-2.0],[3.456,-7.3],[3.467,-4.0],[3.478,-3.5],[3.491,-4.0],[3.505,-1.5],[3.518,-1.0],[3.531,0.5],[3.545,-6.0],[3.558,-1.0],[3.57,-0.5],[3.58,-2.5],[3.594,-3.5],[3.607,-5.0],[3.616,-5.5],[3.629,-3.5],[3.643,-2.0],[3.66,2.5],[3.674,0.0],[3.687,-1.0],[3.7,6.1],[3.714,5.6],[3.727,6.8],[3.74,3.1],[3.754,3.3],[3.765,0.5],[3.778,0.8],[3.79,-1.0],[3.803,1.8],[3.812,3.1],[3.823,0.5],[3.834,-2.0],[3.846,0.5],[3.861,-8.0],[3.872,-4.5],[3.883,1.0],[3.894,3.6],[3.905,2.0],[3.919,0.5],[3.932,-1.0],[3.943,-2.0],[3.954,-1.0],[3.967,-4.8],[3.976,2.0],[3.988,3.6],[3.999,4.0]];

var botCz = [[-1.5,2.1],[-1.494,-1.0],[-1.485,2.8],[-1.474,-3.0],[-1.466,4.8],[-1.457,3.0],[-1.448,7.6],[-1.439,4.6],[-1.43,9.6],[-1.421,3.1],[-1.408,15.2],[-1.396,3.6],[-1.386,12.1],[-1.375,2.6],[-1.366,9.6],[-1.354,-4.5],[-1.343,-4.0],[-1.329,8.6],[-1.316,-5.5],[-1.304,5.8],[-1.292,-2.5],[-1.28,0.0],[-1.272,2.5],[-1.259,-4.2],[-1.248,3.6],[-1.234,-4.8],[-1.221,7.4],[-1.207,-3.5],[-1.197,0.0],[-1.185,4.5],[-1.176,-4.5],[-1.165,11.1],[-1.154,0.0],[-1.145,6.6],[-1.134,8.6],[-1.126,4.6],[-1.114,8.1],[-1.105,4.6],[-1.094,7.4],[-1.081,-3.0],[-1.067,7.1],[-1.054,4.1],[-1.043,0.5],[-1.031,-1.0],[-1.021,4.8],[-1.007,-1.5],[-0.994,-1.7],[-0.981,-1.0],[-0.972,5.1],[-0.96,-7.3],[-0.949,0.5],[-0.941,-12.0],[-0.927,-0.2],[-0.914,0.8],[-0.903,0.5],[-0.892,-0.5],[-0.884,-9.6],[-0.871,6.8],[-0.859,-8.0],[-0.847,0.5],[-0.835,4.1],[-0.823,-5.0],[-0.811,5.5],[-0.8,-6.2],[-0.789,2.5],[-0.778,-8.0],[-0.769,-2.0],[-0.761,-9.0],[-0.746,-0.5],[-0.734,4.7],[-0.722,-7.8],[-0.711,-0.2],[-0.705,-6.5],[-0.693,0.5],[-0.68,5.1],[-0.669,-1.0],[-0.657,4.8],[-0.647,-2.2],[-0.636,2.8],[-0.625,-5.5],[-0.613,-3.0],[-0.604,-6.5],[-0.593,-1.5],[-0.58,5.1],[-0.568,-4.0],[-0.553,-6.1],[-0.54,6.0],[-0.529,-2.7],[-0.518,-4.5],[-0.506,-1.0],[-0.496,-8.3],[-0.485,3.3],[-0.473,-13.7],[-0.465,12.1],[-0.451,-4.0],[-0.44,-9.5],[-0.426,0.5],[-0.414,-9.8],[-0.402,5.6],[-0.391,-8.1],[-0.381,3.1],[-0.371,0.5],[-0.362,-2.0],[-0.349,0.0],[-0.337,3.1],[-0.326,1.0],[-0.317,6.1],[-0.307,-6.0],[-0.298,5.5],[-0.286,6.6],[-0.275,-1.5],[-0.264,-1.5],[-0.252,-1.0],[-0.242,-5.0],[-0.228,8.6],[-0.215,0.5],[-0.202,0.0],[-0.191,-7.5],[-0.179,-2.5],[-0.17,0.5],[-0.159,6.6],[-0.148,0.0],[-0.137,-7.3],
[-0.112,-4.2],[-0.101,1.5],[-0.091,0.5],[-0.076,-4.2],[-0.066,2.1],[-0.052,8.0],[-0.041,-2.7],[-0.028,7.4],[-0.017,2.5],[-0.005,4.1],[0.007,-4.7],[0.02,7.1],[0.03,-2.0],[0.039,4.1],[0.048,-2.7],[0.059,9.5],[0.069,0.5],[0.078,6.6],[0.09,-2.0],[0.099,-5.5],[0.108,-2.0],[0.117,8.0],[0.128,4.1],[0.141,0.6],[0.157,4.1],[0.17,-8.3],[0.183,9.6],[0.194,-1.5],[0.206,0.5],[0.215,0.5],[0.226,-3.7],[0.241,5.1],[0.257,-13.4],[0.271,13.5],[0.281,-1.0],[0.29,2.3],[0.299,0.5],[0.31,6.1],[0.321,0.0],[0.33,7.1],[0.344,-4.2],[0.354,9.4],[0.366,-2.7],[0.379,10.6],[0.388,1.0],[0.397,16.2],[0.408,2.0],[0.422,15.0],[0.433,0.5],[0.44,0.0],[0.45,12.1],[0.461,4.6],[0.472,5.1],[0.486,7.4],[0.497,5.8],[0.511,16.7],[0.522,2.8],[0.532,12.1],[0.544,6.1],[0.557,0.0],[0.568,4.6],[0.577,1.5],[0.588,4.1],[0.602,8.9],[0.615,1.3],[0.627,3.3],[0.639,3.6],[0.653,7.1],[0.664,2.1],[0.671,-4.5],[0.682,3.1],[0.698,7.1],[0.709,0.5],[0.725,-4.5],[0.735,2.1],[0.749,1.0],[0.766,4.6],[0.775,-3.0],[0.787,1.6],[0.799,-8.3],[0.814,3.6],[0.824,-9.3],[0.835,4.6],[0.846,-1.0],[0.858,-4.0],[0.87,-0.6],[0.887,-6.8],[0.898,5.3],[0.909,-7.6],[0.92,-0.2],[0.931,-2.7],[0.942,-2.5],[0.949,2.3],[0.96,-1.0],[0.971,0.8],[0.982,1.0],[0.993,-6.0],[1.004,8.6],[1.016,-3.5],[1.027,3.3],[1.038,0.1],[1.051,3.1],[1.065,-2.5],[1.075,3.1],[1.084,2.5],[1.096,-6.5],[1.107,-0.5],[1.118,3.1],[1.129,3.8],[1.14,-6.2],[1.153,-0.5],[1.167,3.1],[1.18,-3.0],[1.189,4.8],[1.2,-5.7],[1.212,-3.0],[1.223,-3.7],[1.241,-11.0],[1.256,0.6],
[1.263,-6.6],[1.276,1.9],[1.288,-4.5],[1.297,4.5],[1.307,-9.5],[1.316,-2.7],[1.325,-8.9],[1.336,3.3],[1.347,-5.2],[1.359,3.6],[1.37,-1.0],[1.377,2.5],[1.387,-4.0],[1.396,3.6],[1.407,-6.0],[1.416,0.5],[1.423,-6.2],[1.432,0.6],[1.441,-12.5],[1.452,3.6],[1.466,1.0],[1.481,-7.0],[1.496,4.3],[1.508,-6.2],[1.519,7.4],[1.532,-3.5],[1.543,0.0],[1.555,-3.7],[1.565,2.5],[1.574,1.0],[1.583,7.1],[1.594,1.5],[1.603,5.8],[1.614,-2.5],[1.629,9.9],[1.641,4.1],[1.65,11.9],[1.663,-6.5],[1.674,0.5],[1.681,3.8],[1.692,-4.2],[1.703,4.6],[1.717,-6.5],[1.73,-1.0],[1.742,-2.0],[1.748,4.1],[1.759,-5.0],[1.77,2.5],[1.777,-5.7],[1.79,1.0],[1.801,0.8],[1.815,-3.7],[1.828,6.3],[1.84,-4.0],[1.853,4.3],[1.864,-1.5],[1.872,6.3],[1.886,-7.0],[1.899,2.1],[1.91,-3.4],[1.921,6.9],[1.935,-3.2],[1.946,8.9],[1.957,-4.0],[1.97,-1.2],[1.984,9.6],[1.997,-8.0],[2.01,7.1],[2.024,-1.0],[2.035,3.3],[2.048,0.5],[2.059,3.3],[2.071,-3.0],[2.083,5.7],[2.095,-1.2],[2.107,5.3],[2.117,-2.5],[2.128,1.8],[2.14,-4.5],[2.148,3.6],[2.162,-7.0],[2.175,-4.5],[2.187,2.5],[2.199,0.5],[2.213,5.6],[2.228,5.1],[2.244,6.3],[2.257,-7.6],[2.269,4.1],[2.279,-4.5],[2.288,1.5],[2.3,0.8],[2.313,-1.2],[2.32,7.9],[2.331,-0.2],[2.342,0.5],[2.353,8.4],[2.365,-0.2],[2.375,3.6],[2.389,2.5],[2.4,0.5],[2.409,-0.8],[2.42,1.0],[2.429,9.9],[2.442,-6.0],[2.454,6.1],[2.464,-2.5],[2.473,-2.2],[2.486,0.5],[2.498,2.3],[2.513,8.1],[2.525,-5.0],[2.537,4.3],[2.549,2.5],[2.562,3.8],[2.575,0.5],[2.591,-6.0],[2.607,8.4],
[2.628,4.1],[2.641,-0.7],[2.655,1.0],[2.668,6.6],[2.68,-2.5],[2.689,-0.7],[2.699,-6.1],[2.71,2.3],[2.721,-4.5],[2.733,-2.7],[2.744,-8.5],[2.751,3.8],[2.76,-11.0],[2.772,3.3],[2.786,-1.0],[2.799,-5.5],[2.81,-3.0],[2.824,2.1],[2.835,-8.8],[2.849,3.8],[2.861,-3.0],[2.873,-8.8],[2.886,-2.5],[2.899,3.3],[2.913,-3.5],[2.924,-14.6],[2.938,6.9],[2.949,-5.7],[2.959,-2.5],[2.971,-1.7],[2.98,-3.0],[2.993,-1.5],[3.006,-5.0],[3.02,2.5],[3.029,4.6],[3.04,-1.0],[3.051,3.8],[3.063,1.0],[3.073,-0.5],[3.082,-1.0],[3.091,-6.8],[3.102,-4.0],[3.111,-2.5],[3.122,-3.7],[3.134,0.8],[3.144,-6.8],[3.158,7.6],[3.169,-1.5],[3.18,1.8],[3.191,-2.7],[3.202,0.5],[3.215,2.1],[3.229,-1.5],[3.242,-1.0],[3.251,5.8],[3.264,-10.3],[3.276,1.5],[3.287,-1.5],[3.297,-0.5],[3.306,-7.3],[3.315,-4.5],[3.324,-3.5],[3.336,4.1],[3.347,-2.5],[3.358,-6.8],[3.369,3.1],[3.38,-7.8],[3.39,4.1],[3.401,-4.0],[3.411,2.1],[3.422,-1.0],[3.434,4.7],[3.445,-9.0],[3.458,-11.0],[3.469,-3.7],[3.481,0.0],[3.491,-2.0],[3.505,-5.0],[3.514,-0.7],[3.525,-12.2],[3.538,4.5],[3.549,-4.0],[3.558,9.2],[3.57,1.5],[3.58,0.5],[3.591,0.0],[3.603,-1.0],[3.614,-3.0],[3.625,0.0],[3.638,3.3],[3.65,-3.0],[3.66,2.3],[3.671,-4.0],[3.683,1.5],[3.696,5.3],[3.707,-5.5],[3.718,0.0],[3.732,6.1],[3.742,-1.0],[3.754,1.8],[3.765,-2.5],[3.777,0.0],[3.786,0.8],[3.798,-2.7],[3.81,1.8],[3.821,-7.5],[3.831,-1.5],[3.84,-7.8],[3.852,5.6],[3.861,-8.1],[3.872,0.0],[3.883,-0.5],[3.894,1.8],[3.905,-5.2],[3.917,0.5],[3.923,-1.0],[3.935,7.1],[3.946,-2.0],[3.956,-8.0],[3.968,0.5],[3.979,3.1],[3.99,-2.0],[3.997,6.9]];

// spread (SD across the 2 trials) in 0.1 s bins from -1.5 s to 4.0 s
var botC3Sd = [3,4,3,4,5,4,3,3,4,3,6,6,4,4,3,4,5,6,3,3,4,4,3,4,6,4,3,3,3,3,3,3,3,4,5,3,6,6,3,4,5,3,6,4,4,5,3,3,4,4,3,6,5,3,4,4];
var botC4Sd = [2,3,3,3,2,3,4,2,2,2,3,3,2,3,2,2,3,2,2,2,3,3,2,2,2,2,3,2,2,2,2,2,2,2,2,2,3,2,2,2,2,2,2,2,2,3,2,2,2,2,2,3,2,3,2,2];
var botCzSd = [3,5,4,3,4,4,3,4,4,3,5,4,3,3,4,4,4,4,4,4,4,3,3,3,3,3,3,3,3,3,3,3,4,3,3,3,4,3,3,3,4,3,3,3,3,3,3,3,4,3,3,3,3,3,3,3];

var channels = ['C3 mean', 'C4 mean', 'Cz mean'];
var colors = ['#24766a', '#d04e6e', '#2d6ee8'];
var bandFill = ['rgba(36,118,106,0.13)', 'rgba(208,78,110,0.07)', 'rgba(45,110,232,0.07)'];
var yTicks = [-15, -10, -5, 0, 5, 10, 15];
var xTicks = [-1, 0, 1, 2, 3, 4];

function col(arr, k) { return arr.map(function (p) { return p[k]; }); }

function sdAt(sd, t) {
  var i = Math.round((t + 1.5) / 0.1);
  return sd[Math.max(0, Math.min(sd.length - 1, i))];
}

function meanTrace(pts, i, xa, ya, leg) {
  return {
    x: col(pts, 0), y: col(pts, 1), xaxis: xa, yaxis: ya,
    type: 'scatter', mode: 'lines', name: channels[i], legend: leg,
    line: { color: colors[i], width: 5 }, hoverinfo: 'skip'
  };
}

function bandTraces(pts, sd, i) {
  var t = col(pts, 0), v = col(pts, 1);
  var hi = v.map(function (y, k) { return y + sdAt(sd, t[k]); });
  var lo = v.map(function (y, k) { return y - sdAt(sd, t[k]); });
  return [
    { x: t, y: hi, xaxis: 'x2', yaxis: 'y2', type: 'scatter', mode: 'lines',
      line: { width: 0, color: colors[i] }, showlegend: false, hoverinfo: 'skip' },
    { x: t, y: lo, xaxis: 'x2', yaxis: 'y2', type: 'scatter', mode: 'lines',
      line: { width: 0, color: colors[i] }, fill: 'tonexty', fillcolor: bandFill[i],
      showlegend: false, hoverinfo: 'skip' }
  ];
}

var data = [];
data = data.concat(bandTraces(botC3, botC3Sd, 0), bandTraces(botC4, botC4Sd, 1), bandTraces(botCz, botCzSd, 2));
data.push(meanTrace(topC3, 0, 'x', 'y', 'legend'));
data.push(meanTrace(topC4, 1, 'x', 'y', 'legend'));
data.push(meanTrace(topCz, 2, 'x', 'y', 'legend'));
data.push(meanTrace(botC3, 0, 'x2', 'y2', 'legend2'));
data.push(meanTrace(botC4, 1, 'x2', 'y2', 'legend2'));
data.push(meanTrace(botCz, 2, 'x2', 'y2', 'legend2'));

var font = '"Noto Sans", "Noto Sans CJK TC", sans-serif';
var cjk = '"Noto Sans CJK TC", "Noto Sans", sans-serif';

function xAxis(anchor, labels) {
  return {
    anchor: anchor, domain: [0, 1], range: [-1.775, 4.275],
    tickvals: xTicks, ticktext: xTicks.map(String), showticklabels: labels,
    ticks: 'outside', ticklen: 8, tickwidth: 1.5, tickcolor: '#111',
    showgrid: false, zeroline: false, showline: true, mirror: true,
    linecolor: '#111', linewidth: 2, tickfont: { family: font, size: 23, color: '#222' }
  };
}
function yAxis(anchor, domain) {
  return {
    anchor: anchor, domain: domain, range: [-19.2, 17.7],
    tickvals: yTicks, ticktext: yTicks.map(String),
    ticks: 'outside', ticklen: 7, tickwidth: 1.5, tickcolor: '#111',
    showgrid: true, gridcolor: '#e3e8f0', gridwidth: 2, zeroline: false,
    showline: true, mirror: true, linecolor: '#111', linewidth: 2,
    tickfont: { family: font, size: 23, color: '#222' }
  };
}

// phase shading: baseline, pre-cue, early, late
var phases = [[-1.5, -0.5, '#f1f2f4'], [-0.5, 0, '#fcf3ec'], [0, 2, '#f1f7f4'], [2, 4, '#f1f4f9']];
var shapes = [];
['', '2'].forEach(function (s) {
  phases.forEach(function (p) {
    shapes.push({ type: 'rect', xref: 'x' + s, yref: 'y' + s + ' domain', x0: p[0], x1: p[1], y0: 0, y1: 1,
      fillcolor: p[2], line: { width: 0 }, layer: 'below' });
  });
  shapes.push({ type: 'line', xref: 'x' + s, yref: 'y' + s, x0: 0, x1: 0, y0: -19.2, y1: 17.7,
    line: { color: '#222', width: 2 }, layer: 'above' });
});

var legendBase = {
  orientation: 'h', x: 0.998, xanchor: 'right', yanchor: 'middle', traceorder: 'normal',
  bgcolor: 'rgba(0,0,0,0)', font: { family: font, size: 25, color: '#222' },
  entrywidth: 152, entrywidthmode: 'pixels'
};

var layout = {
  width: 2557, height: 1221,
  margin: { l: 122, r: 5, t: 101, b: 83 },
  paper_bgcolor: '#ffffff', plot_bgcolor: '#ffffff',
  title: { text: 'sub9 正確高信 trial 平均波形：C3/C4/Cz 重疊', x: 0.5, xanchor: 'center',
    y: 0.9742, yanchor: 'middle', font: { family: cjk, size: 40, color: '#111', weight: 'bold' } },
  xaxis: xAxis('y', false),
  yaxis: yAxis('x', [0.5294, 1]),
  xaxis2: xAxis('y2', true),
  yaxis2: yAxis('x2', [0, 0.4716]),
  legend: Object.assign({}, legendBase, { y: 0.970 }),
  legend2: Object.assign({}, legendBase, { y: 0.4397 }),
  shapes: shapes,
  annotations: [
    { text: '左腳 | correct-high n=1', xref: 'paper', yref: 'paper', x: 0.5, y: 1.0232,
      xanchor: 'center', yanchor: 'middle', showarrow: false,
      font: { family: cjk, size: 27, color: '#111', weight: 'bold' } },
    { text: '右腳 | correct-high n=2', xref: 'paper', yref: 'paper', x: 0.5, y: 0.4937,
      xanchor: 'center', yanchor: 'middle', showarrow: false,
      font: { family: cjk, size: 27, color: '#111', weight: 'bold' } },
    { text: '<span style="font-size:18px">左腳</span><br>Amplitude', xref: 'paper', yref: 'paper',
      x: -0.0374, y: 0.7647, xanchor: 'center', yanchor: 'middle', textangle: -90, showarrow: false,
      font: { family: cjk, size: 23, color: '#222' } },
    { text: '<span style="font-size:18px">右腳</span><br>Amplitude', xref: 'paper', yref: 'paper',
      x: -0.0374, y: 0.2358, xanchor: 'center', yanchor: 'middle', textangle: -90, showarrow: false,
      font: { family: cjk, size: 23, color: '#222' } },
    { text: 'Time (sec)', xref: 'paper', yref: 'paper', x: 0.5, y: -0.0588,
      xanchor: 'center', yanchor: 'middle', showarrow: false,
      font: { family: font, size: 23, color: '#222' } }
  ]
};

Plotly.newPlot('chart', data, layout, { displayModeBar: false, staticPlot: true });
</script>
</body>
</html>
